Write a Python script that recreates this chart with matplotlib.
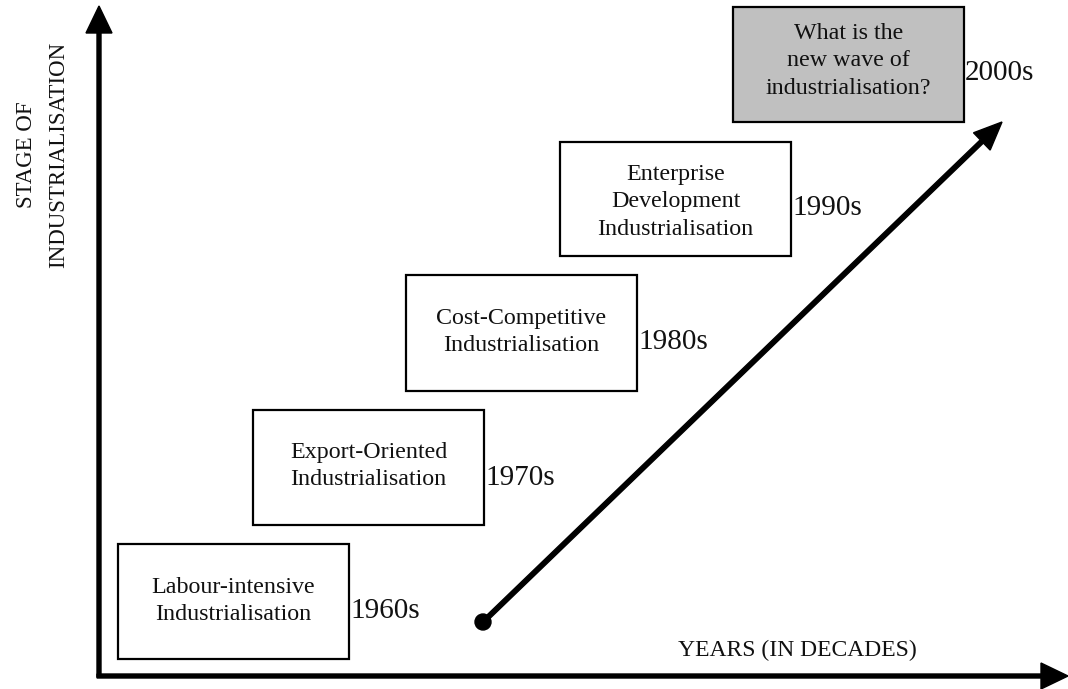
import matplotlib
matplotlib.use("Agg")
import matplotlib.pyplot as plt
from matplotlib.patches import Rectangle, Circle

# ---- content ----
stages = [
    "Labour-intensive\nIndustrialisation",
    "Export-Oriented\nIndustrialisation",
    "Cost-Competitive\nIndustrialisation",
    "Enterprise\nDevelopment\nIndustrialisation",
    "What is the\nnew wave of\nindustrialisation?",
]
decades = ["1960s", "1970s", "1980s", "1990s", "2000s"]
y_axis_label = "STAGE OF\nINDUSTRIALISATION"
x_axis_label = "YEARS (IN DECADES)"

# ---- layout (pixel space) ----
box_left = [118, 253, 406, 560, 733]
box_top = [544, 410, 275, 142, 7]
box_w = 231
box_h = [115, 115, 116, 114, 115]
box_fill = ["white", "white", "white", "white", "#c0c0c0"]
text_cy = [601, 466, 332, 202, 61]
dec_cy = [611, 478, 342, 208, 73]

W, H = 1068, 689
fig = plt.figure(figsize=(W / 100, H / 100), dpi=100)
ax = fig.add_axes([0, 0, 1, 1])
ax.set_xlim(0, W)
ax.set_ylim(H, 0)
ax.axis("off")

font = "Liberation Serif"

# axes arrows
ax.arrow(99, 677, 0, -671, width=4, head_width=26, head_length=27,
         length_includes_head=True, color="black", clip_on=False)
ax.arrow(97, 676, 971, 0, width=4, head_width=26, head_length=27,
         length_includes_head=True, color="black", clip_on=False)

# diagonal progression arrow
x0, y0, x1, y1 = 483, 622, 1002, 122
ax.arrow(x0, y0, x1 - x0, y1 - y0, width=4.5, head_width=24, head_length=28,
         length_includes_head=True, color="black")
ax.add_patch(Circle((x0, y0), 8, color="black"))

# boxes
for i, (lab, dec) in enumerate(zip(stages, decades)):
    ax.add_patch(Rectangle((box_left[i], box_top[i]), box_w, box_h[i],
                           facecolor=box_fill[i], edgecolor="black", lw=1.6))
    ax.text(box_left[i] + box_w / 2, text_cy[i], lab, ha="center", va="center",
            fontsize=17.3, family=font, linespacing=1.38, color="#111111")
    ax.text(box_left[i] + box_w + 1, dec_cy[i], dec, ha="left", va="center",
            fontsize=21, family=font, color="#111111")

# axis labels
ax.text(43, 155, y_axis_label, rotation=90, ha="center", va="center",
        fontsize=16.5, family=font, linespacing=1.7, color="#111111",
        multialignment="center")
ax.text(917, 650, x_axis_label, ha="right", va="center",
        fontsize=17, family=font, color="#111111")

fig.savefig("out.png", dpi=100)
